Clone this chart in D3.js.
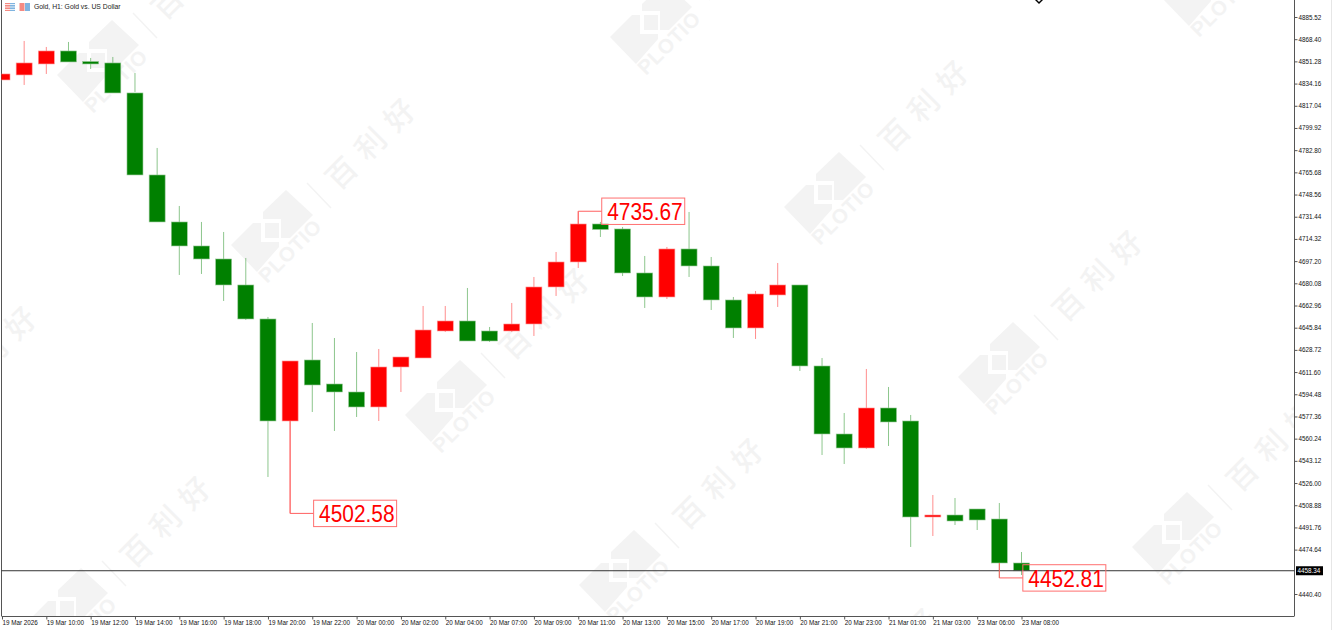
<!DOCTYPE html>
<html><head><meta charset="utf-8">
<script src="https://cdn.jsdelivr.net/npm/d3@7"></script>
<style>html,body{margin:0;padding:0;background:#fff;overflow:hidden}svg{display:block}</style>
</head><body><svg id="c" width="1333" height="630"></svg>
<script>
const times=["19 Mar 2026","19 Mar 09:00","19 Mar 10:00","19 Mar 11:00","19 Mar 12:00","19 Mar 13:00","19 Mar 14:00","19 Mar 15:00","19 Mar 16:00","19 Mar 17:00","19 Mar 18:00","19 Mar 19:00","19 Mar 20:00","19 Mar 21:00","19 Mar 22:00","19 Mar 23:00","20 Mar 00:00","20 Mar 01:00","20 Mar 02:00","20 Mar 03:00","20 Mar 04:00","20 Mar 06:00","20 Mar 07:00","20 Mar 08:00","20 Mar 09:00","20 Mar 10:00","20 Mar 11:00","20 Mar 12:00","20 Mar 13:00","20 Mar 14:00","20 Mar 15:00","20 Mar 16:00","20 Mar 17:00","20 Mar 18:00","20 Mar 19:00","20 Mar 20:00","20 Mar 21:00","20 Mar 22:00","20 Mar 23:00","21 Mar 00:00","21 Mar 01:00","21 Mar 02:00","21 Mar 03:00","21 Mar 04:00","23 Mar 06:00","23 Mar 07:00","23 Mar 08:00"];
const open =[4836.95,4840.81,4849.29,4859.32,4851.22,4850.07,4826.92,4763.66,4727.40,4708.88,4698.85,4678.79,4652.56,4573.87,4620.93,4602.41,4596.24,4584.67,4615.53,4622.47,4643.30,4651.02,4643.30,4643.30,4648.70,4677.25,4696.54,4725.85,4722.00,4688.05,4669.53,4706.57,4693.45,4667.22,4645.62,4671.08,4678.79,4616.30,4563.84,4553.04,4583.90,4573.87,4499.80,4501.35,4505.98,4498.26,4464.32];
const close=[4841.58,4850.07,4859.32,4850.84,4849.29,4826.92,4763.66,4727.40,4708.88,4698.85,4678.79,4652.56,4573.87,4620.16,4601.64,4596.24,4584.67,4615.53,4623.24,4644.07,4651.02,4635.59,4635.59,4648.70,4677.25,4696.54,4725.85,4721.61,4688.05,4669.53,4706.57,4693.45,4667.22,4645.62,4671.85,4678.79,4616.30,4563.84,4553.04,4583.90,4573.10,4499.80,4501.35,4496.72,4497.49,4464.32,4458.34];
const high =[4841.58,4867.04,4862.41,4866.27,4853.92,4854.69,4842.35,4784.49,4739.74,4727.40,4719.68,4699.62,4654.10,4620.16,4649.48,4637.90,4627.10,4629.42,4623.24,4662.59,4662.59,4676.48,4646.39,4664.91,4684.96,4704.25,4735.67,4727.40,4723.54,4701.17,4708.11,4735.11,4700.39,4669.53,4674.16,4695.77,4678.79,4622.47,4580.04,4613.99,4600.10,4578.50,4516.78,4514.46,4505.98,4510.61,4472.80];
const low  =[4836.95,4833.09,4841.58,4859.32,4845.44,4850.07,4827.69,4748.23,4686.51,4687.28,4666.45,4651.79,4530.66,4502.58,4580.81,4566.15,4576.95,4573.87,4596.24,4622.47,4642.53,4635.59,4634.82,4642.53,4639.45,4670.31,4691.91,4715.82,4685.74,4661.05,4667.99,4684.96,4659.50,4637.90,4637.13,4661.82,4612.44,4547.64,4540.69,4552.27,4554.58,4476.66,4485.15,4493.63,4489.77,4452.81,4455.06];
const yTicks=[4885.52,4868.40,4851.28,4834.16,4817.04,4799.92,4782.80,4765.68,4748.56,4731.44,4714.32,4697.20,4680.08,4662.96,4645.84,4628.72,4611.60,4594.48,4577.36,4560.24,4543.12,4526.00,4508.88,4491.76,4474.64,4440.40];
const currentPrice=4458.34;
const markers=[{i:13,price:4502.58,from:4573.87},{i:26,price:4735.67,from:4725.85},{i:45,price:4452.81,from:4464.32}];
const title="Gold, H1:  Gold vs. US Dollar";
const wmLatin="PLOTIO", wmCjk="百利好";

const UP="#ff0000",DOWN="#008000",WM="#f3f3f3";
const svg=d3.select("#c");
const L=1.5,R=1294.5,B=616;
const x=d3.scaleLinear().domain([0,46]).range([2,1021.5]);
const y=d3.scaleLinear().domain([4440.40,4885.52]).range([594,17]);
svg.append("defs").append("clipPath").attr("id","plot").append("rect").attr("x",L).attr("y",0).attr("width",R-L).attr("height",B);

// watermark lattice
const wm=svg.append("g").attr("clip-path","url(#plot)");
for(let j=-1;j<=2;j++)for(let k=-1;k<=4;k++){
  const cx=273+k*174+j*553, cy=230+k*170-j*38;
  if(cx<-200||cx>1500||cy<-150||cy>760)continue;
  const g=wm.append("g").attr("transform",`translate(${cx},${cy})`);
  g.append("path").attr("fill",WM).attr("d","M13,-40 L40,-15 L17,8 L8,8 L8,-11 L-10,-11 L-10,-18 Z");
  g.append("path").attr("fill",WM).attr("d","M-20,-7 L-12,-7 L-12,12 L6,12 L6,17 L-16,42 L-42,15 Z");
  g.append("rect").attr("x",-8).attr("y",-7).attr("width",14).attr("height",15).attr("fill",WM);
  g.append("text").attr("transform","translate(-6,54) rotate(-45)").attr("font-family","Liberation Sans").attr("font-weight","700").attr("font-size",20.5).attr("letter-spacing",.5).attr("fill",WM).text(wmLatin);
  g.append("line").attr("x1",34).attr("y1",-47).attr("x2",58).attr("y2",-22).attr("stroke",WM).attr("stroke-width",1.5);
  g.append("text").attr("transform","translate(65.4,-38.4) rotate(-45)").attr("font-family","Noto Sans CJK SC").attr("font-weight","500").attr("font-size",30).attr("letter-spacing",11).attr("fill",WM).text(wmCjk);
}

// frame
const fr="#555";
svg.append("line").attr("x1",L).attr("x2",L).attr("y1",0).attr("y2",B).attr("stroke",fr);
svg.append("line").attr("x1",R).attr("x2",R).attr("y1",0).attr("y2",B).attr("stroke",fr);
svg.append("line").attr("x1",L).attr("x2",R).attr("y1",B+.5).attr("y2",B+.5).attr("stroke",fr);
svg.append("line").attr("x1",1331.5).attr("x2",1331.5).attr("y1",0).attr("y2",630).attr("stroke","#e6e6e6");

// candles
const data=times.map((t,i)=>({i,t,o:open[i],c:close[i],h:high[i],l:low[i]}));
const plot=svg.append("g").attr("clip-path","url(#plot)");
const bw=x(0.7224)-x(0);
plot.selectAll(".w").data(data).join("line").attr("class","w")
  .attr("x1",d=>x(d.i)).attr("x2",d=>x(d.i)).attr("y1",d=>y(d.h)).attr("y2",d=>y(d.l))
  .attr("stroke",d=>d.c>=d.o?UP:DOWN).attr("stroke-opacity",.45).attr("stroke-width",1);
plot.selectAll(".b").data(data).join("rect").attr("class","b")
  .attr("x",d=>x(d.i)-bw/2).attr("width",bw)
  .attr("y",d=>y(Math.max(d.o,d.c))).attr("height",d=>Math.max(1.5,Math.abs(y(d.o)-y(d.c))))
  .attr("fill",d=>d.c>=d.o?UP:DOWN)
  .attr("stroke",d=>d.c>=d.o?"#ff9a9a":"#9ac99a").attr("stroke-width",.6);

// current price line
svg.append("line").attr("x1",L).attr("x2",R).attr("y1",y(currentPrice)).attr("y2",y(currentPrice)).attr("stroke","#333").attr("stroke-width",1);

// axes
const yAxis=d3.axisRight(y).tickValues(yTicks).tickFormat(d3.format(".2f")).tickSize(3).tickPadding(1);
const gy=svg.append("g").attr("transform",`translate(${R},0)`).call(yAxis);
const xAxis=d3.axisBottom(x).tickValues(d3.range(0,47,2)).tickFormat(i=>times[i]).tickSize(3).tickPadding(0);
const gx=svg.append("g").attr("transform",`translate(0,${B+.5})`).call(xAxis);
[gy,gx].forEach(g=>{g.select(".domain").remove();g.selectAll("line").attr("stroke",fr);
  g.selectAll("text").attr("fill","#111").attr("font-family","Liberation Sans").attr("font-size",6.3);});
gx.selectAll("text").attr("text-anchor","start").attr("dy","0.9em");

// current price tag
const py=y(currentPrice);
svg.append("rect").attr("x",R+1.5).attr("y",py-4.5).attr("width",27).attr("height",9).attr("fill","#000");
svg.append("text").attr("x",R+3).attr("y",py+2.3).attr("fill","#fff").attr("font-family","Liberation Sans").attr("font-size",6.3).text(currentPrice.toFixed(2));

// markers
const mk=svg.append("g");
markers.forEach(m=>{
  const mx=x(m.i),my=y(m.price),bx=mx+23.5;
  mk.append("path").attr("fill","none").attr("stroke","#ff6060").attr("stroke-width",1)
    .attr("d",d3.line()([[mx,y(m.from)],[mx,my],[bx,my]]));
  mk.append("rect").attr("x",bx).attr("y",my-13.2).attr("width",83).attr("height",26.4).attr("fill","none").attr("stroke","#ff7070").attr("stroke-width",1);
  mk.append("text").attr("x",bx+5.5).attr("y",my+8.7).attr("fill",UP).attr("font-family","Liberation Sans").attr("font-size",23.5)
    .attr("textLength",75.5).attr("lengthAdjust","spacingAndGlyphs").text(m.price.toFixed(2));
});

// header
svg.append("text").attr("x",34).attr("y",9).attr("fill","#222").attr("font-family","Liberation Sans").attr("font-size",6.8).text(title);
const ic=svg.append("g");
ic.append("rect").attr("x",5).attr("y",3).attr("width",5).attr("height",8).attr("fill","#f58a82");
ic.append("rect").attr("x",10).attr("y",3).attr("width",5).attr("height",8).attr("fill","#7fb4e0");
ic.append("rect").attr("x",19.5).attr("y",3).attr("width",5).attr("height",8).attr("fill","#f58a82");
ic.append("rect").attr("x",25).attr("y",3).attr("width",5).attr("height",8).attr("fill","#7fb4e0");
ic.selectAll(".s").data(d3.range(3)).join("line").attr("x1",5).attr("x2",15).attr("y1",d=>4.5+d*2.5).attr("y2",d=>4.5+d*2.5).attr("stroke","#fff").attr("stroke-width",.8);
svg.append("path").attr("d","M1035,0 L1039,4 L1043,0 L1041,0 L1039,2 L1037,0 Z").attr("fill","#000");
</script></body></html>
